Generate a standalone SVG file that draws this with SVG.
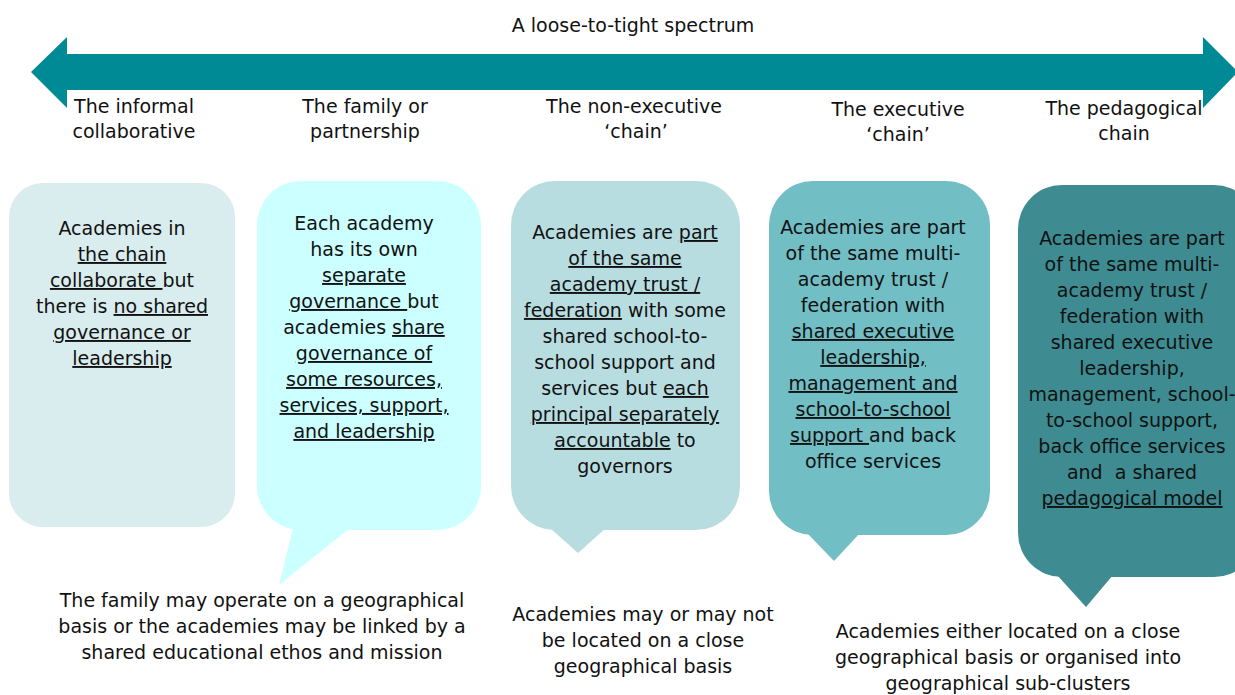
<svg xmlns="http://www.w3.org/2000/svg" width="1235" height="695" viewBox="0 0 1235 695">
<style>
text{font-family:"DejaVu Sans","Liberation Sans",sans-serif;font-size:19px;fill:#111;text-anchor:middle}
.u{text-decoration:underline}
</style>
<rect width="1235" height="695" fill="#fff"/>
<g id="spectrum-arrow">
<polygon points="31,72 67,37 67,54 1203,54 1203,37 1238,72 1203,108 1203,90 67,90 67,108" fill="#008A96"/>
<text x="633" y="32">A loose-to-tight spectrum</text>
</g>
<g id="headers">
<text x="134" y="113">The informal</text><text x="134" y="138">collaborative</text>
<text x="365" y="113">The family or</text><text x="365" y="138">partnership</text>
<text x="634" y="113">The non-executive</text><text x="636" y="138">‘chain’</text>
<text x="898" y="116">The executive</text><text x="898" y="141">‘chain’</text>
<text x="1124" y="115">The pedagogical</text><text x="1124" y="140">chain</text>
</g>
<g id="node-informal">
<rect x="9" y="183" width="226" height="344" rx="34" fill="#D9ECEE"/>
<text x="122" y="235">Academies in</text>
<text x="122" y="261"><tspan class="u">the chain</tspan></text>
<text x="122" y="287"><tspan class="u">collaborate </tspan>but</text>
<text x="122" y="313">there is <tspan class="u">no shared</tspan></text>
<text x="122" y="339"><tspan class="u">governance or</tspan></text>
<text x="122" y="365"><tspan class="u">leadership</tspan></text>
</g>
<g id="node-family">
<rect x="257" y="181" width="224" height="349" rx="44" fill="#CCFFFF"/>
<polygon points="293,528 350,528 279,585" fill="#CCFFFF"/>
<text x="364" y="230">Each academy</text>
<text x="364" y="256">has its own</text>
<text x="364" y="282"><tspan class="u">separate</tspan></text>
<text x="364" y="308"><tspan class="u">governance </tspan>but</text>
<text x="364" y="334">academies <tspan class="u">share</tspan></text>
<text x="364" y="360"><tspan class="u">governance of</tspan></text>
<text x="364" y="386"><tspan class="u">some resources,</tspan></text>
<text x="364" y="412"><tspan class="u">services, support,</tspan></text>
<text x="364" y="438"><tspan class="u">and leadership</tspan></text>
<text x="262" y="607">The family may operate on a geographical</text>
<text x="262" y="633">basis or the academies may be linked by a</text>
<text x="262" y="659">shared educational ethos and mission</text>
</g>
<g id="node-nonexec">
<rect x="511" y="181" width="229" height="349" rx="44" fill="#B8DDE1"/>
<polygon points="550,528 606,528 578,553" fill="#B8DDE1"/>
<text x="625" y="239">Academies are <tspan class="u">part</tspan></text>
<text x="625" y="265"><tspan class="u">of the same</tspan></text>
<text x="625" y="291"><tspan class="u">academy trust /</tspan></text>
<text x="625" y="317"><tspan class="u">federation</tspan> with some</text>
<text x="625" y="343">shared school-to-</text>
<text x="625" y="369">school support and</text>
<text x="625" y="395">services but <tspan class="u">each</tspan></text>
<text x="625" y="421"><tspan class="u">principal separately</tspan></text>
<text x="625" y="447"><tspan class="u">accountable</tspan> to</text>
<text x="625" y="473">governors</text>
<text x="643" y="621">Academies may or may not</text>
<text x="643" y="647">be located on a close</text>
<text x="643" y="673">geographical basis</text>
</g>
<g id="node-exec">
<rect x="769" y="181" width="221" height="354" rx="44" fill="#71BEC5"/>
<polygon points="807,533 860,533 834,561" fill="#71BEC5"/>
<text x="873" y="234">Academies are part</text>
<text x="873" y="260">of the same multi-</text>
<text x="873" y="286">academy trust /</text>
<text x="873" y="312">federation with</text>
<text x="873" y="338"><tspan class="u">shared executive</tspan></text>
<text x="873" y="364"><tspan class="u">leadership,</tspan></text>
<text x="873" y="390"><tspan class="u">management and</tspan></text>
<text x="873" y="416"><tspan class="u">school-to-school</tspan></text>
<text x="873" y="442"><tspan class="u">support </tspan>and back</text>
<text x="873" y="468">office services</text>
</g>
<g id="node-pedagogical">
<rect x="1018" y="185" width="240" height="392" rx="44" fill="#3E8C91"/>
<polygon points="1057,575 1113,575 1086,607" fill="#3E8C91"/>
<text x="1132" y="245">Academies are part</text>
<text x="1132" y="271">of the same multi-</text>
<text x="1132" y="297">academy trust /</text>
<text x="1132" y="323">federation with</text>
<text x="1132" y="349">shared executive</text>
<text x="1132" y="375">leadership,</text>
<text x="1132" y="401">management, school-</text>
<text x="1132" y="427">to-school support,</text>
<text x="1132" y="453">back office services</text>
<text x="1132" y="479" xml:space="preserve">and  a shared</text>
<text x="1132" y="505"><tspan class="u">pedagogical model</tspan></text>
<text x="1008" y="638">Academies either located on a close</text>
<text x="1008" y="664">geographical basis or organised into</text>
<text x="1008" y="690">geographical sub-clusters</text>
</g>
<g id="connectors"></g>
</svg>
